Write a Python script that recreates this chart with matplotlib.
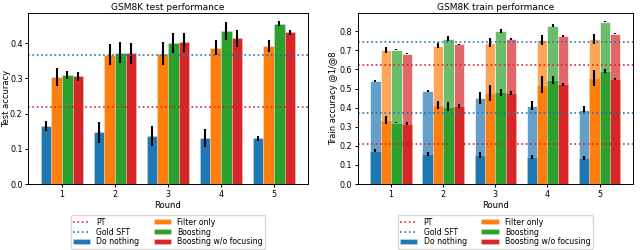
import matplotlib
matplotlib.use("Agg")
import matplotlib.pyplot as plt
import numpy as np

rounds = [1, 2, 3, 4, 5]
methods = ["Do nothing", "Filter only", "Boosting", "Boosting w/o focusing"]
colors = ["tab:blue", "tab:orange", "tab:green", "tab:red"]

# Test accuracy (left)
test_vals = {
    "Do nothing": [0.165, 0.147, 0.137, 0.131, 0.130],
    "Filter only": [0.305, 0.368, 0.371, 0.388, 0.392],
    "Boosting": [0.310, 0.373, 0.400, 0.435, 0.456],
    "Boosting w/o focusing": [0.306, 0.372, 0.403, 0.414, 0.432],
}
test_err = {
    "Do nothing": [0.013, 0.030, 0.028, 0.025, 0.007],
    "Filter only": [0.025, 0.030, 0.033, 0.022, 0.016],
    "Boosting": [0.012, 0.030, 0.028, 0.025, 0.007],
    "Boosting w/o focusing": [0.013, 0.030, 0.027, 0.025, 0.007],
}
test_pt = 0.219
test_gold = 0.368

# Train accuracy @8 (light) and @1 (dark)
train_at8 = {
    "Do nothing": [0.540, 0.485, 0.450, 0.410, 0.390],
    "Filter only": [0.700, 0.725, 0.740, 0.755, 0.760],
    "Boosting": [0.703, 0.762, 0.800, 0.830, 0.850],
    "Boosting w/o focusing": [0.683, 0.731, 0.758, 0.773, 0.787],
}
train_at8_err = {
    "Do nothing": [0.005, 0.005, 0.030, 0.025, 0.020],
    "Filter only": [0.015, 0.012, 0.025, 0.025, 0.025],
    "Boosting": [0.003, 0.012, 0.010, 0.010, 0.003],
    "Boosting w/o focusing": [0.003, 0.003, 0.005, 0.005, 0.003],
}
train_at1 = {
    "Do nothing": [0.175, 0.158, 0.152, 0.140, 0.137],
    "Filter only": [0.335, 0.413, 0.476, 0.520, 0.555],
    "Boosting": [0.322, 0.405, 0.480, 0.545, 0.590],
    "Boosting w/o focusing": [0.315, 0.408, 0.477, 0.522, 0.550],
}
train_at1_err = {
    "Do nothing": [0.010, 0.010, 0.015, 0.010, 0.010],
    "Filter only": [0.020, 0.020, 0.040, 0.045, 0.040],
    "Boosting": [0.003, 0.025, 0.020, 0.020, 0.010],
    "Boosting w/o focusing": [0.008, 0.010, 0.010, 0.008, 0.005],
}
train_pt = [0.625, 0.210]
train_gold = [0.743, 0.370]

plt.rcParams["font.family"] = ["DejaVu Sans"]
fig = plt.figure(figsize=(6.4, 2.5), dpi=100)
ax1 = fig.add_axes([0.044, 0.264, 0.437, 0.684])
ax2 = fig.add_axes([0.559, 0.264, 0.430, 0.684])

x = np.array(rounds, dtype=float)
w = 0.2
offsets = [-0.3, -0.1, 0.1, 0.3]
ekw = dict(lw=1.5, capsize=0, ecolor="black")
edge = dict(edgecolor=(1, 1, 1, 0.3), linewidth=0.6)

for m, c, o in zip(methods, colors, offsets):
    ax1.bar(x + o, test_vals[m], w, yerr=test_err[m], color=c, error_kw=ekw, **edge)
ax1.axhline(test_pt, color="tab:red", ls=":", lw=1.2)
ax1.axhline(test_gold, color="tab:blue", ls=":", lw=1.2)
ax1.set_title("GSM8K test performance", fontsize=6.5, pad=2)
ax1.set_ylabel("Test accuracy", fontsize=6)
ax1.set_xlabel("Round", fontsize=6)

handles = []
for m, c, o in zip(methods, colors, offsets):
    ax2.bar(x + o, train_at8[m], w, yerr=train_at8_err[m], color=c, alpha=0.7,
            error_kw=ekw, **edge)
for m, c, o in zip(methods, colors, offsets):
    b = ax2.bar(x + o, train_at1[m], w, yerr=train_at1_err[m], color=c,
                error_kw=ekw, label=m, **edge)
    handles.append(b)
lpt = ax2.axhline(train_pt[0], color="tab:red", ls=":", lw=1.2, label="PT")
ax2.axhline(train_pt[1], color="tab:red", ls=":", lw=1.2)
lgold = ax2.axhline(train_gold[0], color="tab:blue", ls=":", lw=1.2, label="Gold SFT")
ax2.axhline(train_gold[1], color="tab:blue", ls=":", lw=1.2)
ax2.set_title("GSM8K train performance", fontsize=6.5, pad=2)
ax2.set_ylabel("Train accuracy @1/@8", fontsize=6)
ax2.set_xlabel("Round", fontsize=6)

for ax in (ax1, ax2):
    ax.set_xticks(rounds)
    ax.tick_params(labelsize=5.8, length=2.5, pad=1.5, width=0.7)
    ax.xaxis.labelpad = 2
    for s in ax.spines.values():
        s.set_linewidth(0.7)
ax1.yaxis.set_label_coords(-0.062, 0.5)
ax2.yaxis.set_label_coords(-0.072, 0.5)

leg_h = [lpt, lgold] + handles
leg_l = ["PT", "Gold SFT"] + methods
for ax in (ax1, ax2):
    ax.legend(leg_h, leg_l, loc="upper center", bbox_to_anchor=(0.5, -0.16),
              ncol=2, fontsize=5.6, handlelength=2.2, columnspacing=1.9,
              labelspacing=0.12, borderpad=0.3, handletextpad=0.8,
              handleheight=0.6, frameon=True)

fig.savefig("out.png", dpi=100)
